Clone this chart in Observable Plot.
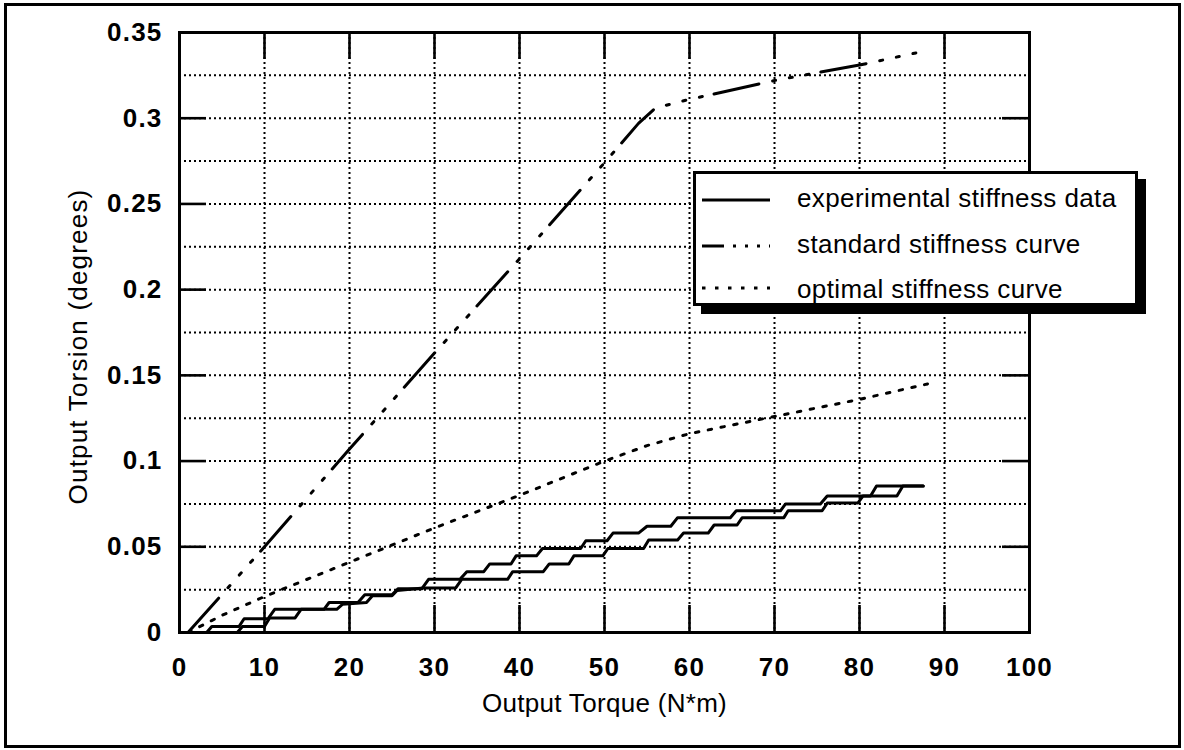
<!DOCTYPE html>
<html><head><meta charset="utf-8">
<script src="https://cdn.jsdelivr.net/npm/d3@7"></script>
<script src="https://cdn.jsdelivr.net/npm/@observablehq/plot@0.6"></script>
<style>
body{margin:0;background:#fff;}
#wrap{position:relative;width:1184px;height:750px;overflow:hidden;font-family:"Liberation Sans",Arial,Helvetica,sans-serif;}
#outer{position:absolute;left:4px;top:3px;width:1171px;height:739px;border:3px solid #000;pointer-events:none;}
#legend{position:absolute;left:0;top:0;pointer-events:none;}
</style>
</head><body>
<div id="wrap"><div id="chart"></div><div id="outer"></div>
<svg id="legend" width="1184" height="750"></svg></div>
<script>
// ---- data ----
const xTicks = [0, 10, 20, 30, 40, 50, 60, 70, 80, 90, 100];
const yTicks = [0, 0.05, 0.1, 0.15, 0.2, 0.25, 0.3, 0.35];
const yTickLabels = ["0", "0.05", "0.1", "0.15", "0.2", "0.25", "0.3", "0.35"];
const yGrid = [0.025, 0.05, 0.075, 0.1, 0.125, 0.15, 0.175, 0.2, 0.225, 0.25, 0.275, 0.3, 0.325];

const seriesNames = ["experimental stiffness data", "standard stiffness curve", "optimal stiffness curve"];

const stdTorque  = [1, 10, 20, 30, 40, 50, 54, 56, 60, 70, 80, 87.5];
const stdTorsion = [0, 0.05, 0.107, 0.163, 0.218, 0.274, 0.297, 0.306, 0.311, 0.322, 0.331, 0.339];

const optTorque  = [1, 5, 10, 20, 30, 40, 50, 55, 60, 70, 80, 88];
const optTorsion = [0, 0.01, 0.021, 0.041, 0.061, 0.080, 0.100, 0.109, 0.116, 0.126, 0.136, 0.145];

const expUpTorque  = [1, 3.2, 3.8, 7, 7.6, 10.4, 11.2, 17, 17.6, 21, 21.8, 25, 25.7, 28.5, 29.3, 33, 33.8, 35.8, 36.5, 39, 39.6, 42, 42.7, 47.2, 47.8, 50.3, 51, 54, 55, 57.8, 58.6, 64.8, 65.5, 70.7, 71.3, 75.4, 76.2, 81.3, 82, 87.5];
const expUpTorsion = [0, 0, 0.0035, 0.0035, 0.008, 0.008, 0.0135, 0.0135, 0.0175, 0.0175, 0.022, 0.022, 0.0255, 0.0255, 0.031, 0.031, 0.0355, 0.0355, 0.040, 0.040, 0.0447, 0.0447, 0.049, 0.049, 0.0535, 0.0535, 0.058, 0.058, 0.062, 0.062, 0.067, 0.067, 0.071, 0.071, 0.075, 0.075, 0.0796, 0.0796, 0.0855, 0.0855];

const expDnTorque  = [1, 6.8, 7.4, 10, 10.6, 13.6, 14.3, 18.5, 19.2, 22, 22.7, 25, 25.6, 28.7, 32.5, 33.2, 38.6, 39.2, 42.8, 43.5, 45.8, 46.4, 49.8, 50.4, 54.6, 55.2, 58.6, 59.3, 62.2, 62.9, 65.6, 66.2, 71.1, 71.6, 75.6, 76.2, 79.8, 80.4, 84.4, 85.1, 87.5];
const expDnTorsion = [0, 0, 0.0035, 0.0035, 0.0085, 0.0085, 0.0135, 0.0135, 0.0165, 0.0175, 0.0215, 0.0215, 0.0245, 0.026, 0.026, 0.031, 0.031, 0.0355, 0.0355, 0.040, 0.040, 0.0447, 0.0447, 0.049, 0.049, 0.054, 0.054, 0.058, 0.058, 0.0627, 0.0627, 0.067, 0.067, 0.071, 0.071, 0.0755, 0.0755, 0.0796, 0.0796, 0.0855, 0.0855];

const xLabel = "Output Torque (N*m)";
const yLabel = "Output Torsion (degrees)";

// ---- tables ----
const zip = (xs, ys) => xs.map((x, i) => ({x, y: ys[i]}));
const stdData = zip(stdTorque, stdTorsion);
const optData = zip(optTorque, optTorsion);
const upData = zip(expUpTorque, expUpTorsion);
const dnData = zip(expDnTorque, expDnTorsion);

const FONT = '"Liberation Sans", Arial, Helvetica, sans-serif';
const STD_DASH = "46,14,3,14,3,14,3,12";
const OPT_DASH = "3.5,9.5";
const GRID_DASH = "2,3";

const chart = Plot.plot({
  width: 1184, height: 750,
  marginLeft: 179, marginRight: 155, marginTop: 32, marginBottom: 118,
  style: {fontFamily: FONT, fontSize: "26px", fontWeight: "bold", color: "#000", background: "transparent", letterSpacing: "1.2px"},
  x: {domain: [0, 100], ticks: xTicks, tickSize: 0, tickPadding: 25, label: null, tickFormat: d => String(d)},
  y: {domain: [0, 0.35], ticks: yTicks, tickSize: 0, tickPadding: 17, label: null, tickFormat: d => yTickLabels[yTicks.indexOf(d)]},
  marks: [
    Plot.ruleX(xTicks.slice(1, -1), {stroke: "#000", strokeWidth: 2, strokeDasharray: GRID_DASH}),
    Plot.ruleY(yGrid, {stroke: "#000", strokeWidth: 2, strokeDasharray: GRID_DASH}),
    Plot.ruleX(xTicks, {insetTop: 573, stroke: "#000", strokeWidth: 2.6}),
    Plot.ruleX(xTicks, {insetBottom: 573, stroke: "#000", strokeWidth: 2.6}),
    Plot.ruleY(yTicks, {insetRight: 823, stroke: "#000", strokeWidth: 2.6}),
    Plot.ruleY(yTicks, {insetLeft: 823, stroke: "#000", strokeWidth: 2.6}),
    Plot.line(upData, {x: "x", y: "y", stroke: "#000", strokeWidth: 3}),
    Plot.line(dnData, {x: "x", y: "y", stroke: "#000", strokeWidth: 3}),
    Plot.line(stdData, {x: "x", y: "y", stroke: "#000", strokeWidth: 3, strokeDasharray: STD_DASH}),
    Plot.line(optData, {x: "x", y: "y", stroke: "#000", strokeWidth: 3, strokeDasharray: OPT_DASH}),
    Plot.frame({stroke: "#000", strokeWidth: 3}),
    Plot.text([xLabel], {text: d => d, frameAnchor: "bottom", textAnchor: "middle", dy: 79, fontWeight: "normal", fontSize: 26, fill: "#000"}),
    Plot.text([yLabel], {text: d => d, frameAnchor: "left", textAnchor: "middle", rotate: -90, dx: -101, dy: 14, fontWeight: "normal", fontSize: 26, fill: "#000"})
  ]
});
document.getElementById("chart").appendChild(chart);
chart.querySelectorAll("text").forEach(t => {
  if (t.textContent === xLabel) t.setAttribute("letter-spacing", "0.3");
  if (t.textContent === yLabel) t.setAttribute("letter-spacing", "1.2");
});

// ---- inset legend ----
const lg = d3.select("#legend");
lg.append("rect").attr("x", 701).attr("y", 179).attr("width", 445).attr("height", 135).attr("fill", "#000");
lg.append("rect").attr("x", 694.5).attr("y", 172.5).attr("width", 442).attr("height", 132)
  .attr("fill", "#fff").attr("stroke", "#000").attr("stroke-width", 3);
const dashes = [null, "22,9,3,9,3,9,3,9", OPT_DASH];
const rowLineY = [200, 246, 288];
const rowTextY = [207, 253, 298];
seriesNames.forEach((name, i) => {
  lg.append("line").attr("x1", 702).attr("x2", 770).attr("y1", rowLineY[i]).attr("y2", rowLineY[i])
    .attr("stroke", "#000").attr("stroke-width", 3)
    .attr("stroke-dasharray", dashes[i]);
  lg.append("text").attr("x", 797).attr("y", rowTextY[i]).text(name)
    .attr("font-family", FONT).attr("font-size", 26).attr("letter-spacing", 0.4).attr("fill", "#000");
});
</script>
</body></html>
